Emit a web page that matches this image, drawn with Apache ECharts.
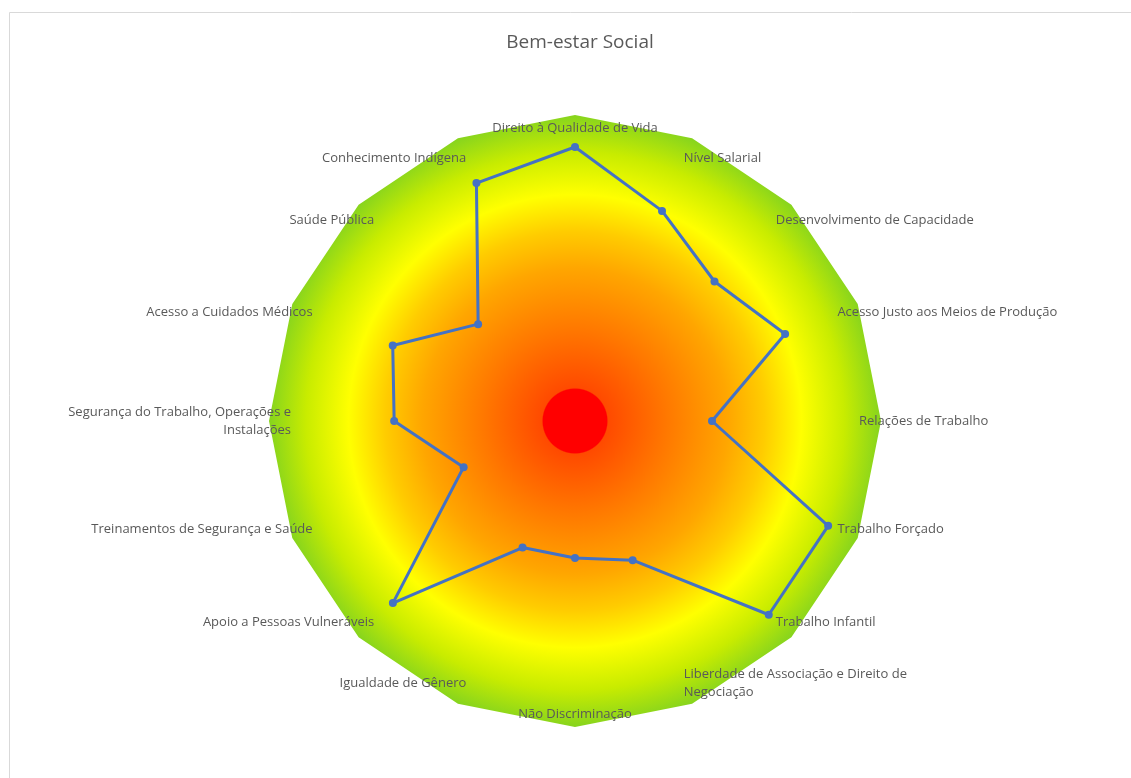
<!DOCTYPE html>
<html>
<head>
<meta charset="utf-8">
<title>Bem-estar Social</title>
<script src="https://cdn.jsdelivr.net/npm/echarts@6/dist/echarts.min.js"></script>
<style>
  html, body { margin: 0; padding: 0; background: #fff; }
  #chart { width: 1131px; height: 778px; }
</style>
</head>
<body>
<div id="chart"></div>
<script>
// indicators, clockwise from the top
const indicators = [
  'Direito à Qualidade de Vida',
  'Nível Salarial',
  'Desenvolvimento de Capacidade',
  'Acesso Justo aos Meios de Produção',
  'Relações de Trabalho',
  'Trabalho Forçado',
  'Trabalho Infantil',
  'Liberdade de Associação e Direito de\nNegociação',
  'Não Discriminação',
  'Igualdade de Gênero',
  'Apoio a Pessoas Vulneráveis',
  'Treinamentos de Segurança e Saúde',
  'Segurança do Trabalho, Operações e\nInstalações',
  'Acesso a Cuidados Médicos',
  'Saúde Pública',
  'Conhecimento Indígena'
];
const scores = [1.0, 0.83, 0.72, 0.83, 0.5, 1.0, 1.0, 0.55, 0.5, 0.5, 0.94, 0.44, 0.66, 0.72, 0.5, 0.94];
const scaleMax = 1;

// echarts lays indicators out counterclockwise, so flip the order
const order = indicators.map((_, i) => (indicators.length - i) % indicators.length);

const center = [575, 421];
const labelFont = '"Open Sans", "DejaVu Sans", sans-serif';

const bgGradient = {
  type: 'radial', x: 0.5, y: 0.5, r: 0.5,
  colorStops: [
    { offset: 0, color: '#ff0000' },
    { offset: 0.104, color: '#ff0000' },
    { offset: 0.108, color: '#ff4a00' },
    { offset: 0.3, color: '#ff7800' },
    { offset: 0.5, color: '#ffa600' },
    { offset: 0.62, color: '#ffcc00' },
    { offset: 0.74, color: '#ffff00' },
    { offset: 0.88, color: '#c8ec00' },
    { offset: 1, color: '#86d41e' }
  ]
};

const chart = echarts.init(document.getElementById('chart'));

chart.setOption({
  backgroundColor: '#fff',
  animation: false,
  title: {
    text: 'Bem-estar Social',
    left: 575,
    top: 28,
    textAlign: 'center',
    textStyle: { color: '#595959', fontSize: 19, fontWeight: 'normal', fontFamily: labelFont }
  },
  graphic: [{
    type: 'rect',
    left: 7, top: 10,
    shape: { width: 1200, height: 900 },
    style: { fill: 'none', stroke: '#d9d9d9', lineWidth: 1 },
    silent: true
  }],
  radar: [
    {
      // gradient backdrop
      center: center,
      radius: 306,
      shape: 'polygon',
      startAngle: 90,
      splitNumber: 1,
      silent: true,
      indicator: order.map(() => ({ name: '', max: scaleMax })),
      axisName: { show: false },
      axisLine: { show: false },
      splitLine: { show: false },
      splitArea: { show: true, areaStyle: { color: [bgGradient] } }
    },
    {
      center: center,
      radius: 274,
      shape: 'polygon',
      startAngle: 90,
      splitNumber: 5,
      nameGap: 10,
      indicator: order.map(i => ({ name: indicators[i], max: scaleMax })),
      axisName: { color: '#595959', fontSize: 13, lineHeight: 18, fontFamily: labelFont },
      axisLine: { show: false },
      splitLine: { show: false },
      splitArea: { show: false }
    }
  ],
  series: [{
    type: 'radar',
    radarIndex: 1,
    symbol: 'circle',
    symbolSize: 8,
    lineStyle: { color: '#4472c4', width: 3 },
    itemStyle: { color: '#4472c4' },
    data: [{ name: 'Bem-estar Social', value: order.map(i => scores[i]) }]
  }]
});
</script>
</body>
</html>
